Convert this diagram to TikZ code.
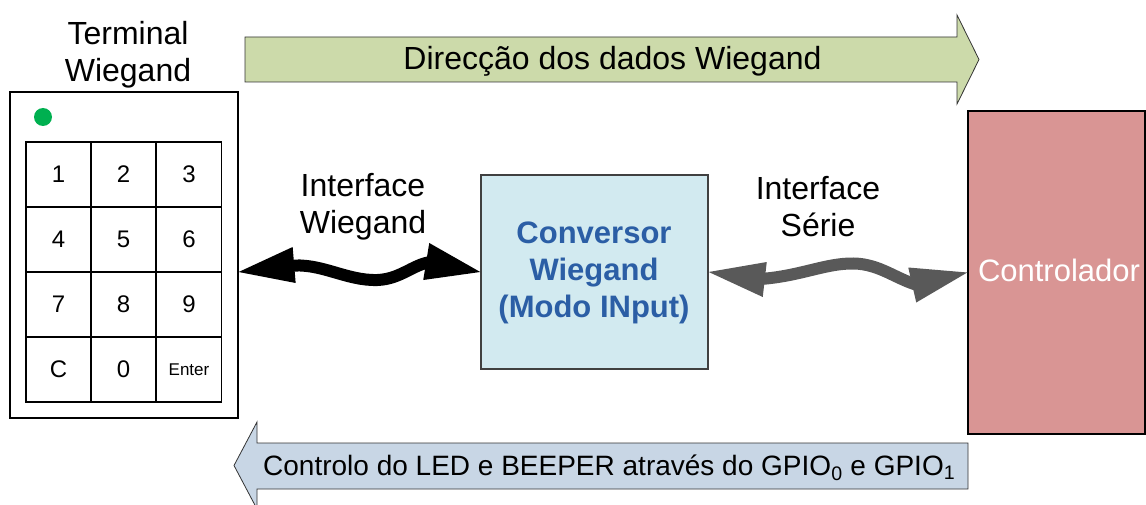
\documentclass[tikz,border=0pt]{standalone}
\usepackage{fontspec}
\setmainfont{Liberation Sans}
\usetikzlibrary{calc}
\definecolor{arrgreen}{RGB}{204,218,170}
\definecolor{arrblue}{RGB}{200,214,229}
\definecolor{convfill}{RGB}{210,234,240}
\definecolor{convtext}{RGB}{43,94,165}
\definecolor{ctrlfill}{RGB}{217,149,148}
\definecolor{ledgreen}{RGB}{0,176,80}
\definecolor{serialgrey}{RGB}{89,89,89}
\begin{document}
\begin{tikzpicture}[x=1pt,y=-1pt,
  keybox/.style={draw=black, line width=1.3pt, minimum width=65pt, minimum height=65pt, inner sep=0pt, font=\fontsize{24}{28}\selectfont},
  bigtext/.style={font=\fontsize{32}{37}\selectfont, align=center, anchor=base, inner sep=0pt},
  blockarrow/.style={draw=black!80, line width=0.8pt},
  fatline/.style={line width=12pt}]
\useasboundingbox (0,0) rectangle (1146,505);
\clip (0,0) rectangle (1146,505);

% block arrows
\filldraw[blockarrow, fill=arrgreen] (245,37) -- (957,37) -- (957,15) -- (979,59.5) -- (957,104) -- (957,82) -- (245,82) -- cycle;
\node[font=\fontsize{32}{37}\selectfont, anchor=base] (dirtext) at (612.5,70) {Direcção dos dados Wiegand};
\filldraw[blockarrow, fill=arrblue] (234,465.5) -- (257,422) -- (257,443) -- (968,443) -- (968,489) -- (257,489) -- (257,509) -- cycle;
\node[font=\fontsize{28}{32}\selectfont, anchor=base west, inner sep=0pt] (gpiotext) at (263,475) {Controlo do LED e BEEPER através do GPIO\textsubscript{0} e GPIO\textsubscript{1}};

% terminal
\node[draw=black, line width=1.3pt, minimum width=228pt, minimum height=326pt] (term) at (124,255) {};
\node[fill=ledgreen, circle, minimum size=18pt, inner sep=0pt] (led) at (43,117) {};
\node[keybox] (k1) at (58.5,174.5) {1};
\node[keybox] (k2) at (123.5,174.5) {2};
\node[keybox] (k3) at (189,174.5) {3};
\node[keybox] (k4) at (58.5,239.5) {4};
\node[keybox] (k5) at (123.5,239.5) {5};
\node[keybox] (k6) at (189,239.5) {6};
\node[keybox] (k7) at (58.5,304.5) {7};
\node[keybox] (k8) at (123.5,304.5) {8};
\node[keybox] (k9) at (189,304.5) {9};
\node[keybox] (kC) at (58.5,369.5) {C};
\node[keybox] (k0) at (123.5,369.5) {0};
\node[keybox, font=\fontsize{17}{20}\selectfont] (kEnter) at (189,369.5) {Enter};
\node[bigtext] (termlabel) at (128,82) {Terminal\\Wiegand};

% converter and controller
\node[draw=black!75, line width=1.5pt, fill=convfill, minimum width=227pt, minimum height=194pt, font=\bfseries\fontsize{31}{37}\selectfont, text=convtext, align=center] (conv) at (594.5,272) {};
\node[font=\bfseries\fontsize{31}{37}\selectfont, text=convtext, align=center, anchor=base, inner sep=0pt] (convtxt) at (594,317) {Conversor\\Wiegand\\(Modo INput)};
\node[draw=black, line width=1.5pt, fill=ctrlfill, minimum width=177pt, minimum height=323pt, text=white, font=\fontsize{31}{37}\selectfont] (ctrl) at (1056.5,272.5) {};
\node[text=white, font=\fontsize{31}{37}\selectfont, anchor=base, inner sep=0pt] (ctrltxt) at (1059,281.5) {Controlador};

% labels
\node[bigtext] (ifw) at (363,234) {Interface\\Wiegand};
\node[bigtext] (ifs) at (818,236.5) {Interface\\Série};

% Wiegand interface double arrow
\coordinate (a1) at (conv.west -| term.east);
\coordinate (a2) at (conv.west);
\fill[black] (a1) -- ($(a1)+(54,-25)$) -- ($(a1)+(57,11)$) -- cycle;
\fill[black] (a2) -- ($(a2)+(-51,-29)$) -- ($(a2)+(-57,8)$) -- cycle;
\draw[black, fatline] ($(a1)+(50,-6)$) .. controls ($(a1)+(82,-10)$) and ($(a1)+(107,9)$) .. ($(a1)+(139,8)$) .. controls ($(a2)+(-80,7)$) and ($(a2)+(-68,-7)$) .. ($(a2)+(-50,-10)$);

% serial interface double arrow
\coordinate (a3) at (conv.east);
\coordinate (a4) at (ctrl.west);
\fill[serialgrey] (a3) -- ($(a3)+(58,-10)$) -- ($(a3)+(54,25)$) -- cycle;
\fill[serialgrey] (a4) -- ($(a4)+(-59,-5)$) -- ($(a4)+(-51,30)$) -- cycle;
\draw[serialgrey, fatline] ($(a3)+(52,7)$) .. controls ($(a3)+(92,4)$) and ($(a3)+(117,-9)$) .. ($(a3)+(145,-8.5)$) .. controls ($(a4)+(-88,-8.5)$) and ($(a4)+(-72,6)$) .. ($(a4)+(-50,12.5)$);
\end{tikzpicture}
\end{document}
